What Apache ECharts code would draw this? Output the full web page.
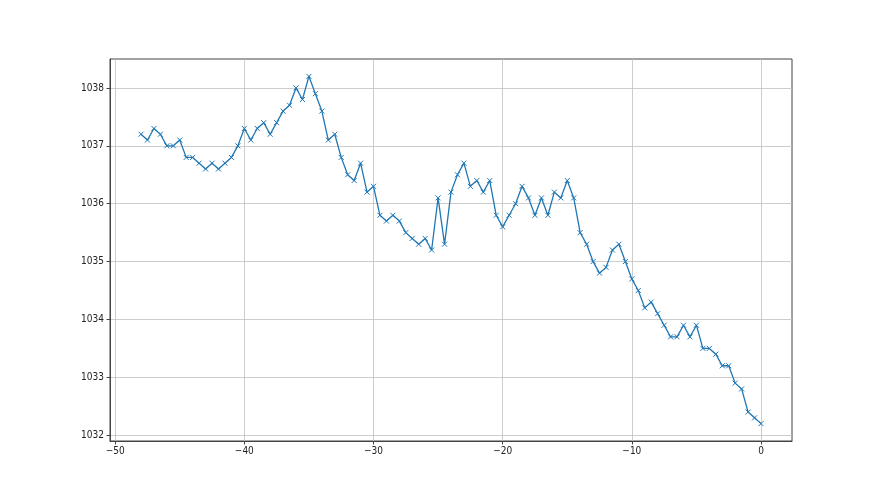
<!DOCTYPE html>
<html>
<head>
<meta charset="utf-8">
<script src="https://cdn.jsdelivr.net/npm/echarts@6/dist/echarts.min.js"></script>
<style>html,body{margin:0;padding:0;background:#fff}#c{width:880px;height:495px}</style>
</head>
<body>
<div id="c"></div>
<script>
var xValues = [-48,-47.5,-47,-46.5,-46,-45.5,-45,-44.5,-44,-43.5,-43,-42.5,-42,-41.5,-41,-40.5,-40,-39.5,-39,-38.5,-38,-37.5,-37,-36.5,-36,-35.5,-35,-34.5,-34,-33.5,-33,-32.5,-32,-31.5,-31,-30.5,-30,-29.5,-29,-28.5,-28,-27.5,-27,-26.5,-26,-25.5,-25,-24.5,-24,-23.5,-23,-22.5,-22,-21.5,-21,-20.5,-20,-19.5,-19,-18.5,-18,-17.5,-17,-16.5,-16,-15.5,-15,-14.5,-14,-13.5,-13,-12.5,-12,-11.5,-11,-10.5,-10,-9.5,-9,-8.5,-8,-7.5,-7,-6.5,-6,-5.5,-5,-4.5,-4,-3.5,-3,-2.5,-2,-1.5,-1,-0.5,0];
var yValues = [1037.2,1037.1,1037.3,1037.2,1037.0,1037.0,1037.1,1036.8,1036.8,1036.7,1036.6,1036.7,1036.6,1036.7,1036.8,1037.0,1037.3,1037.1,1037.3,1037.4,1037.2,1037.4,1037.6,1037.7,1038.0,1037.8,1038.2,1037.9,1037.6,1037.1,1037.2,1036.8,1036.5,1036.4,1036.7,1036.2,1036.3,1035.8,1035.7,1035.8,1035.7,1035.5,1035.4,1035.3,1035.4,1035.2,1036.1,1035.3,1036.2,1036.5,1036.7,1036.3,1036.4,1036.2,1036.4,1035.8,1035.6,1035.8,1036.0,1036.3,1036.1,1035.8,1036.1,1035.8,1036.2,1036.1,1036.4,1036.1,1035.5,1035.3,1035.0,1034.8,1034.9,1035.2,1035.3,1035.0,1034.7,1034.5,1034.2,1034.3,1034.1,1033.9,1033.7,1033.7,1033.9,1033.7,1033.9,1033.5,1033.5,1033.4,1033.2,1033.2,1032.9,1032.8,1032.4,1032.3,1032.2];
var xTicks = [-50,-40,-30,-20,-10,0];
var yTicks = [1032,1033,1034,1035,1036,1037,1038];

var data = xValues.map(function(x,i){return [x,yValues[i]];});
var font = '"Liberation Sans Narrow","DejaVu Sans Condensed",sans-serif';
var chart = echarts.init(document.getElementById('c'), null, {renderer:'canvas'});
chart.setOption({
  animation:false,
  backgroundColor:'#fff',
  grid:{left:110,top:59,width:682,height:382,show:true,borderColor:'#444',borderWidth:1,containLabel:false},
  xAxis:{type:'value',min:-50.4,max:2.4,
    axisLine:{show:true,onZero:false,lineStyle:{color:'#444',width:1}},
    axisTick:{show:true,length:3.5,customValues:xTicks,lineStyle:{color:'#444'}},
    axisLabel:{customValues:xTicks,margin:5,color:'#222',fontFamily:font,fontSize:10,
      formatter:function(v){return String(v).replace('-','\u2212');}},
    splitLine:{show:true,lineStyle:{color:'#c0c0c0',width:0.8}}},
  yAxis:{type:'value',min:1031.9,max:1038.5,
    axisLine:{show:true,onZero:false,lineStyle:{color:'#444',width:1}},
    axisTick:{show:true,length:3.5,customValues:yTicks,lineStyle:{color:'#444'}},
    axisLabel:{customValues:yTicks,margin:6,color:'#222',fontFamily:font,fontSize:10,
      formatter:function(v){return String(v);}},
    splitLine:{show:true,lineStyle:{color:'#c0c0c0',width:0.8}}},
  series:[{type:'line',data:data,
    lineStyle:{color:'#1f77b4',width:1.3},
    symbol:'path://M0,0L10,10M10,0L0,10',symbolSize:5,showSymbol:true,
    itemStyle:{color:'rgba(0,0,0,0)',borderColor:'#1f77b4',borderWidth:1}}]
});
</script>
</body>
</html>
